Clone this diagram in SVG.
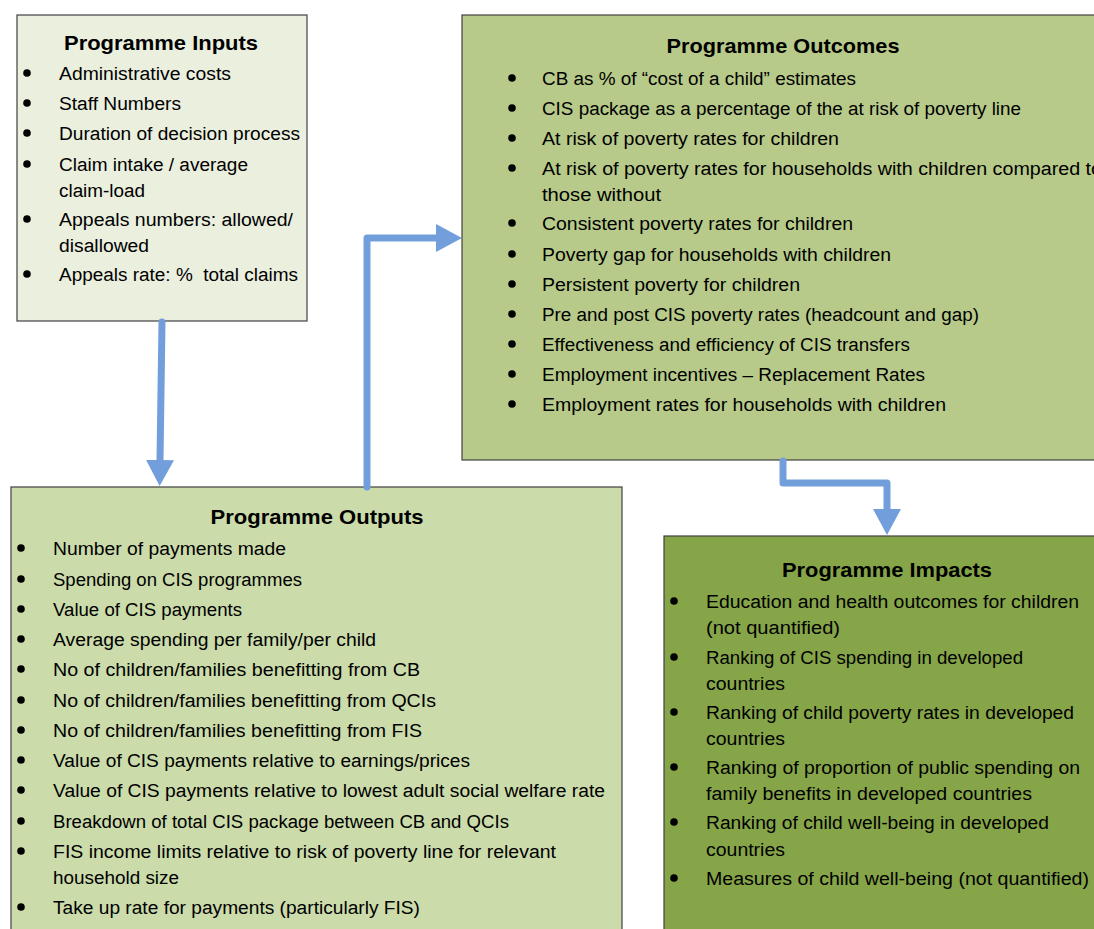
<svg xmlns="http://www.w3.org/2000/svg" width="1094" height="929" viewBox="0 0 1094 929">
<style>
.box{stroke:#404040;stroke-width:1.2}
.t{font-family:"Liberation Sans","Open Sans",sans-serif;font-size:18px;fill:#000}
.h{font-family:"Liberation Sans","Open Sans",sans-serif;font-size:21px;font-weight:bold;fill:#000;text-anchor:middle}
.b{fill:#000}
.conn{fill:none;stroke:#729fdc;stroke-width:7;stroke-linecap:round;stroke-linejoin:round}
</style>
<defs>
<marker id="ah" markerUnits="userSpaceOnUse" markerWidth="26" markerHeight="28" viewBox="0 0 26 28" refX="0" refY="14" orient="auto">
<path d="M0,0 L26,14 L0,28 z" fill="#729fdc"/>
</marker>
</defs>
<rect width="1094" height="929" fill="#fff"/>

<g id="inputs">
<rect class="box" x="17" y="15" width="290" height="306" fill="#ebefde"/>
<text class="h" x="161" y="50" textLength="194" lengthAdjust="spacingAndGlyphs">Programme Inputs</text>
<g class="b"><circle cx="27" cy="73" r="3.8"/><circle cx="27" cy="103" r="3.8"/><circle cx="27" cy="133" r="3.8"/><circle cx="27" cy="164" r="3.8"/><circle cx="27" cy="219" r="3.8"/><circle cx="27" cy="274" r="3.8"/></g>
<text class="t" x="59" y="80" textLength="172" lengthAdjust="spacingAndGlyphs">Administrative costs</text>
<text class="t" x="59" y="110" textLength="122" lengthAdjust="spacingAndGlyphs">Staff Numbers</text>
<text class="t" x="59" y="140" textLength="241" lengthAdjust="spacingAndGlyphs">Duration of decision process</text>
<text class="t" x="59" y="171" textLength="189" lengthAdjust="spacingAndGlyphs">Claim intake / average</text>
<text class="t" x="59" y="197" textLength="86" lengthAdjust="spacingAndGlyphs">claim-load</text>
<text class="t" x="59" y="226" textLength="234" lengthAdjust="spacingAndGlyphs">Appeals numbers: allowed/</text>
<text class="t" x="59" y="252" textLength="90" lengthAdjust="spacingAndGlyphs">disallowed</text>
<text class="t" x="59" y="281" textLength="239" lengthAdjust="spacingAndGlyphs" xml:space="preserve">Appeals rate: %  total claims</text>
</g>

<g id="outcomes">
<rect class="box" x="462" y="15" width="640" height="445" fill="#b7ca89"/>
<text class="h" x="783" y="53" textLength="233" lengthAdjust="spacingAndGlyphs">Programme Outcomes</text>
<g class="b"><circle cx="512" cy="78" r="3.8"/><circle cx="512" cy="108" r="3.8"/><circle cx="512" cy="138" r="3.8"/><circle cx="512" cy="168" r="3.8"/><circle cx="512" cy="223" r="3.8"/><circle cx="512" cy="254" r="3.8"/><circle cx="512" cy="284" r="3.8"/><circle cx="512" cy="314" r="3.8"/><circle cx="512" cy="344" r="3.8"/><circle cx="512" cy="374" r="3.8"/><circle cx="512" cy="404" r="3.8"/></g>
<text class="t" x="542" y="85" textLength="314" lengthAdjust="spacingAndGlyphs">CB as % of “cost of a child” estimates</text>
<text class="t" x="542" y="115" textLength="479" lengthAdjust="spacingAndGlyphs">CIS package as a percentage of the at risk of poverty line</text>
<text class="t" x="542" y="145" textLength="297" lengthAdjust="spacingAndGlyphs">At risk of poverty rates for children</text>
<text class="t" x="542" y="175" textLength="560" lengthAdjust="spacingAndGlyphs">At risk of poverty rates for households with children compared to</text>
<text class="t" x="542" y="201" textLength="119" lengthAdjust="spacingAndGlyphs">those without</text>
<text class="t" x="542" y="230" textLength="311" lengthAdjust="spacingAndGlyphs">Consistent poverty rates for children</text>
<text class="t" x="542" y="261" textLength="349" lengthAdjust="spacingAndGlyphs">Poverty gap for households with children</text>
<text class="t" x="542" y="291" textLength="258" lengthAdjust="spacingAndGlyphs">Persistent poverty for children</text>
<text class="t" x="542" y="321" textLength="437" lengthAdjust="spacingAndGlyphs">Pre and post CIS poverty rates (headcount and gap)</text>
<text class="t" x="542" y="351" textLength="368" lengthAdjust="spacingAndGlyphs">Effectiveness and efficiency of CIS transfers</text>
<text class="t" x="542" y="381" textLength="383" lengthAdjust="spacingAndGlyphs">Employment incentives – Replacement Rates</text>
<text class="t" x="542" y="411" textLength="404" lengthAdjust="spacingAndGlyphs">Employment rates for households with children</text>
</g>

<g id="outputs">
<rect class="box" x="11" y="487" width="611" height="450" fill="#cbdbaa"/>
<text class="h" x="317" y="524" textLength="213" lengthAdjust="spacingAndGlyphs">Programme Outputs</text>
<g class="b"><circle cx="21" cy="548" r="3.8"/><circle cx="21" cy="579" r="3.8"/><circle cx="21" cy="609" r="3.8"/><circle cx="21" cy="639" r="3.8"/><circle cx="21" cy="669" r="3.8"/><circle cx="21" cy="700" r="3.8"/><circle cx="21" cy="730" r="3.8"/><circle cx="21" cy="760" r="3.8"/><circle cx="21" cy="790" r="3.8"/><circle cx="21" cy="821" r="3.8"/><circle cx="21" cy="851" r="3.8"/><circle cx="21" cy="907" r="3.8"/></g>
<text class="t" x="53" y="555" textLength="233" lengthAdjust="spacingAndGlyphs">Number of payments made</text>
<text class="t" x="53" y="586" textLength="249" lengthAdjust="spacingAndGlyphs">Spending on CIS programmes</text>
<text class="t" x="53" y="616" textLength="189" lengthAdjust="spacingAndGlyphs">Value of CIS payments</text>
<text class="t" x="53" y="646" textLength="323" lengthAdjust="spacingAndGlyphs">Average spending per family/per child</text>
<text class="t" x="53" y="676" textLength="367" lengthAdjust="spacingAndGlyphs">No of children/families benefitting from CB</text>
<text class="t" x="53" y="707" textLength="383" lengthAdjust="spacingAndGlyphs">No of children/families benefitting from QCIs</text>
<text class="t" x="53" y="737" textLength="369" lengthAdjust="spacingAndGlyphs">No of children/families benefitting from FIS</text>
<text class="t" x="53" y="767" textLength="417" lengthAdjust="spacingAndGlyphs">Value of CIS payments relative to earnings/prices</text>
<text class="t" x="53" y="797" textLength="552" lengthAdjust="spacingAndGlyphs">Value of CIS payments relative to lowest adult social welfare rate</text>
<text class="t" x="53" y="828" textLength="456" lengthAdjust="spacingAndGlyphs">Breakdown of total CIS package between CB and QCIs</text>
<text class="t" x="53" y="858" textLength="503" lengthAdjust="spacingAndGlyphs">FIS income limits relative to risk of poverty line for relevant</text>
<text class="t" x="53" y="884" textLength="126" lengthAdjust="spacingAndGlyphs">household size</text>
<text class="t" x="53" y="914" textLength="367" lengthAdjust="spacingAndGlyphs">Take up rate for payments (particularly FIS)</text>
</g>

<g id="impacts">
<rect class="box" x="664" y="536" width="440" height="400" fill="#86a548"/>
<text class="h" x="887" y="577" textLength="210" lengthAdjust="spacingAndGlyphs">Programme Impacts</text>
<g class="b"><circle cx="674" cy="601" r="3.8"/><circle cx="674" cy="657" r="3.8"/><circle cx="674" cy="712" r="3.8"/><circle cx="674" cy="767" r="3.8"/><circle cx="674" cy="822" r="3.8"/><circle cx="674" cy="878" r="3.8"/></g>
<text class="t" x="706" y="608" textLength="373" lengthAdjust="spacingAndGlyphs">Education and health outcomes for children</text>
<text class="t" x="706" y="634" textLength="134" lengthAdjust="spacingAndGlyphs">(not quantified)</text>
<text class="t" x="706" y="664" textLength="317" lengthAdjust="spacingAndGlyphs">Ranking of CIS spending in developed</text>
<text class="t" x="706" y="690" textLength="79" lengthAdjust="spacingAndGlyphs">countries</text>
<text class="t" x="706" y="719" textLength="368" lengthAdjust="spacingAndGlyphs">Ranking of child poverty rates in developed</text>
<text class="t" x="706" y="745" textLength="79" lengthAdjust="spacingAndGlyphs">countries</text>
<text class="t" x="706" y="774" textLength="374" lengthAdjust="spacingAndGlyphs">Ranking of proportion of public spending on</text>
<text class="t" x="706" y="800" textLength="326" lengthAdjust="spacingAndGlyphs">family benefits in developed countries</text>
<text class="t" x="706" y="829" textLength="343" lengthAdjust="spacingAndGlyphs">Ranking of child well-being in developed</text>
<text class="t" x="706" y="856" textLength="79" lengthAdjust="spacingAndGlyphs">countries</text>
<text class="t" x="706" y="885" textLength="383" lengthAdjust="spacingAndGlyphs">Measures of child well-being (not quantified)</text>
</g>

<g id="connectors">
<path class="conn" d="M162,322 L160,460" marker-end="url(#ah)"/>
<path class="conn" d="M367,487 L367,238 L436,238" marker-end="url(#ah)"/>
<path class="conn" d="M783,461 L783,483 L887,483 L887,509" marker-end="url(#ah)"/>
</g>
</svg>
